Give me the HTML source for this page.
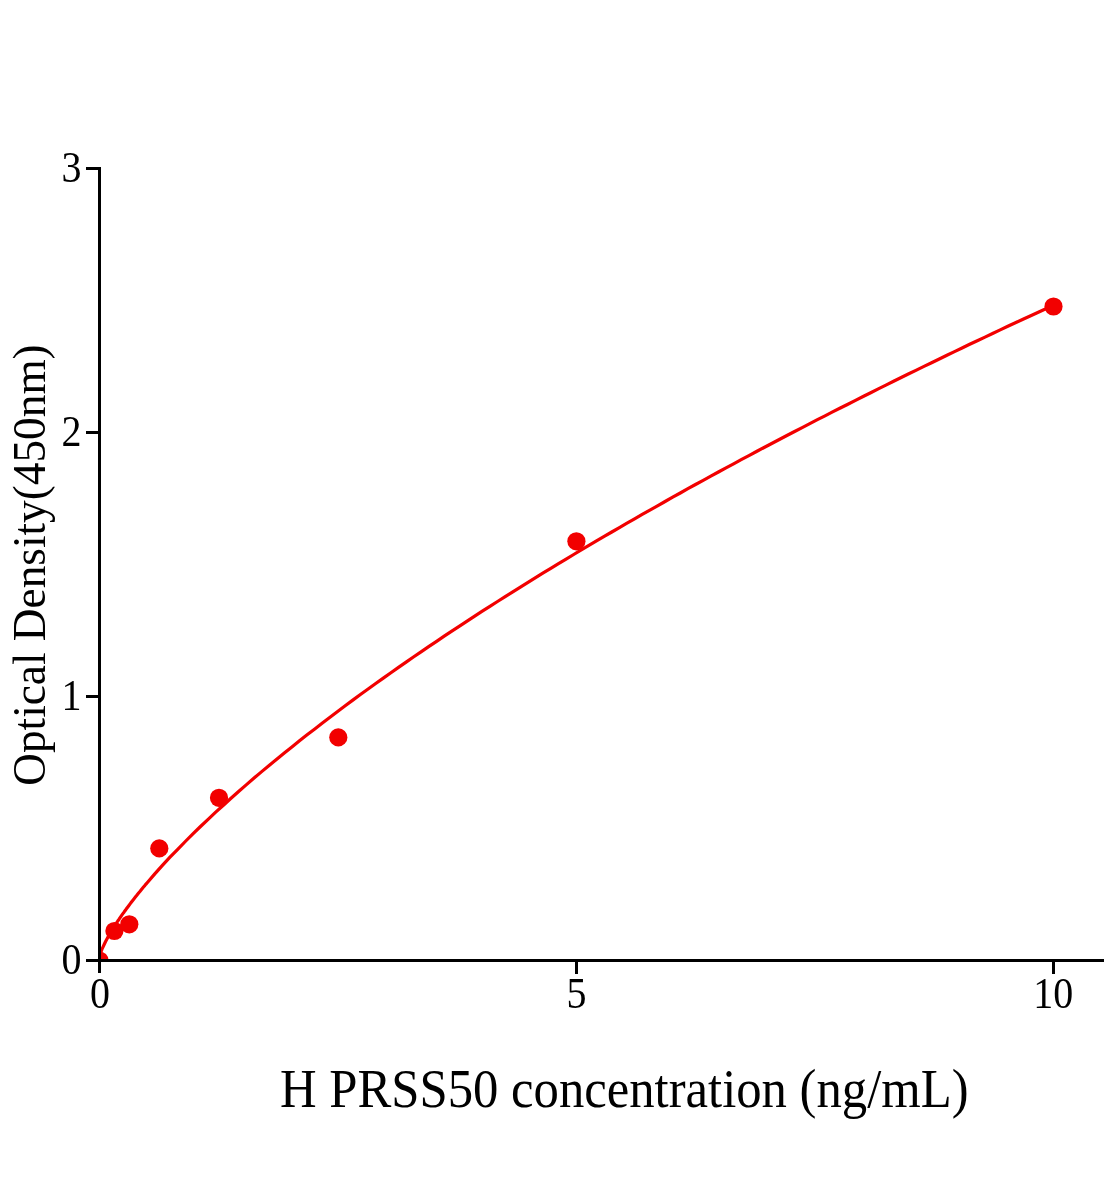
<!DOCTYPE html>
<html lang="en"><head><meta charset="utf-8"><title>H PRSS50 standard curve</title>
<style>
html,body{margin:0;padding:0;background:#fff;}
body{width:1104px;height:1200px;overflow:hidden;}
svg{display:block;}
text{font-family:"Liberation Serif","Times New Roman",Times,serif;fill:#000;}
</style></head><body>
<svg width="1104" height="1200" viewBox="0 0 1104 1200">
<rect width="1104" height="1200" fill="#fff"/>
<defs><clipPath id="plot"><rect x="99.5" y="0" width="1004.5" height="960.5"/></clipPath></defs>
<g fill="#f20000">
<circle cx="99.5" cy="960.5" r="9.1" clip-path="url(#plot)"/>
<circle cx="114.4" cy="931.0" r="9.1"/>
<circle cx="129.3" cy="924.3" r="9.1"/>
<circle cx="159.3" cy="848.4" r="9.1"/>
<circle cx="219.0" cy="797.8" r="9.1"/>
<circle cx="338.3" cy="737.4" r="9.1"/>
<circle cx="576.4" cy="541.3" r="9.1"/>
<circle cx="1053.5" cy="306.5" r="9.1"/>
</g>
<path d="M99.5,960.5 100.7,952.6 101.9,949.4 103.2,946.6 104.4,944.0 105.6,941.5 106.8,939.2 108.1,936.9 109.3,934.7 110.5,932.6 111.7,930.6 113.0,928.6 114.2,926.6 115.4,924.7 116.6,922.9 117.8,921.0 119.1,919.2 120.3,917.4 121.5,915.6 122.7,913.9 124.0,912.2 125.2,910.5 126.4,908.8 127.6,907.2 128.9,905.5 130.1,903.9 131.3,902.3 132.5,900.7 133.7,899.2 135.0,897.6 136.2,896.1 137.4,894.5 138.6,893.0 139.9,891.5 141.1,890.0 142.3,888.5 143.5,887.0 144.8,885.6 146.0,884.1 147.2,882.7 154.8,873.9 162.4,865.4 170.0,857.2 177.7,849.3 185.3,841.5 192.9,833.9 200.5,826.5 208.1,819.3 215.7,812.1 223.4,805.2 231.0,798.3 238.6,791.5 246.2,784.9 253.8,778.3 261.4,771.9 269.1,765.5 276.7,759.2 284.3,753.0 291.9,746.9 299.5,740.8 307.1,734.8 314.8,728.9 322.4,723.0 330.0,717.2 337.6,711.5 345.2,705.8 352.8,700.1 360.4,694.5 368.1,689.0 375.7,683.5 383.3,678.1 390.9,672.7 398.5,667.4 406.1,662.1 413.8,656.8 421.4,651.6 429.0,646.4 436.6,641.3 444.2,636.2 451.8,631.1 459.5,626.1 467.1,621.1 474.7,616.1 482.3,611.2 489.9,606.3 497.5,601.5 505.2,596.6 512.8,591.8 520.4,587.1 528.0,582.3 535.6,577.6 543.2,572.9 550.8,568.3 558.5,563.7 566.1,559.1 573.7,554.5 581.3,549.9 588.9,545.4 596.5,540.9 604.2,536.4 611.8,532.0 619.4,527.6 627.0,523.2 634.6,518.8 642.2,514.4 649.9,510.1 657.5,505.8 665.1,501.5 672.7,497.2 680.3,493.0 687.9,488.7 695.5,484.5 703.2,480.3 710.8,476.2 718.4,472.0 726.0,467.9 733.6,463.8 741.2,459.7 748.9,455.6 756.5,451.5 764.1,447.5 771.7,443.5 779.3,439.5 786.9,435.5 794.6,431.5 802.2,427.6 809.8,423.6 817.4,419.7 825.0,415.8 832.6,411.9 840.3,408.0 847.9,404.2 855.5,400.3 863.1,396.5 870.7,392.7 878.3,388.9 885.9,385.1 893.6,381.3 901.2,377.5 908.8,373.8 916.4,370.1 924.0,366.4 931.6,362.7 939.3,359.0 946.9,355.3 954.5,351.6 962.1,348.0 969.7,344.3 977.3,340.7 985.0,337.1 992.6,333.5 1000.2,329.9 1007.8,326.3 1015.4,322.8 1023.0,319.2 1030.7,315.7 1038.3,312.2 1045.9,308.7 1053.5,305.2" fill="none" stroke="#f20000" stroke-width="3.2" stroke-linejoin="round" stroke-linecap="round"/>
<g fill="#000" shape-rendering="crispEdges">
<rect x="98" y="167" width="3" height="806"/>
<rect x="86" y="959" width="1018" height="3"/>
<rect x="86" y="167" width="13" height="3"/>
<rect x="86" y="431" width="13" height="3"/>
<rect x="86" y="695" width="13" height="3"/>
<rect x="575" y="960" width="3" height="13.5"/>
<rect x="1052" y="960" width="3" height="13.5"/>
</g>
<text transform="translate(81.6,182.4) scale(1,1.1)" text-anchor="end" font-size="40">3</text>
<text transform="translate(81.6,446.4) scale(1,1.1)" text-anchor="end" font-size="40">2</text>
<text transform="translate(81.6,710.4) scale(1,1.1)" text-anchor="end" font-size="40">1</text>
<text transform="translate(81.6,974.4) scale(1,1.1)" text-anchor="end" font-size="40">0</text>
<text transform="translate(100,1008) scale(1,1.1)" text-anchor="middle" font-size="40">0</text>
<text transform="translate(576.5,1008) scale(1,1.1)" text-anchor="middle" font-size="40">5</text>
<text transform="translate(1053.2,1008) scale(1,1.1)" text-anchor="middle" font-size="40">10</text>
<text transform="translate(280,1106.5) scale(1,1.07)" font-size="50.7">H PRSS50 concentration (ng/mL)</text>
<text transform="translate(44.8,785.8) rotate(-90) scale(1,1.025)" font-size="45.3">Optical Density(450nm)</text>
</svg>
</body></html>
